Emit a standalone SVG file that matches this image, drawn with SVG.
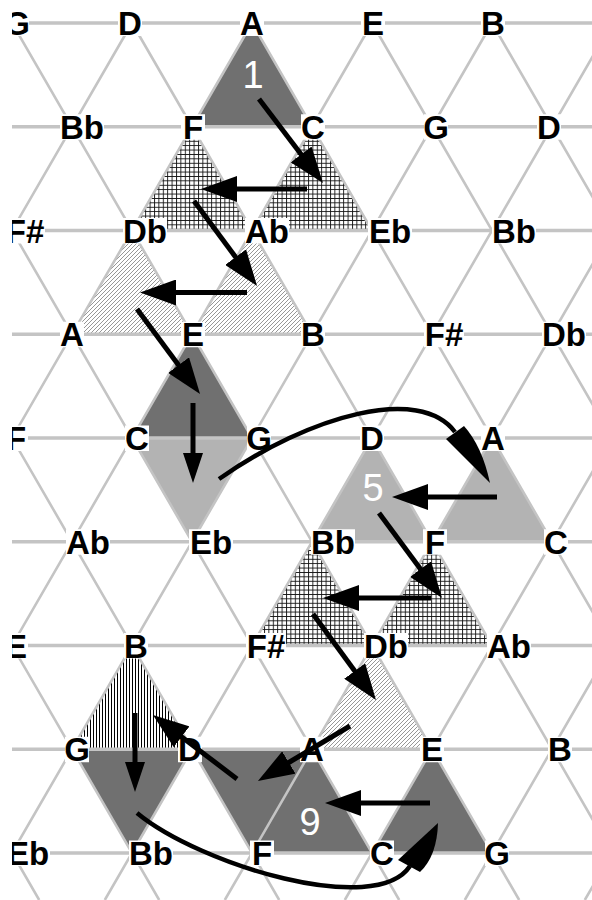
<svg xmlns="http://www.w3.org/2000/svg" width="592" height="900" viewBox="0 0 592 900">
<defs>
  <clipPath id="clip"><rect x="12" y="0" width="580" height="900"/></clipPath>
  <pattern id="cross" patternUnits="userSpaceOnUse" width="4.4" height="4.4"><rect width="4.4" height="4.4" fill="#fff"/><path d="M0,0.5H4.4M0.5,0V4.4" stroke="#111" stroke-width="0.9"/></pattern>
  <pattern id="diag" patternUnits="userSpaceOnUse" width="4" height="4"><rect width="4" height="4" fill="#fff"/><path d="M-1,1L1,-1M0,4L4,0M3,5L5,3" stroke="#6a6a6a" stroke-width="0.7"/></pattern>
  <pattern id="vert" patternUnits="userSpaceOnUse" width="3" height="3"><rect width="3" height="3" fill="#fff"/><path d="M0.5,0V3" stroke="#000" stroke-width="1"/></pattern>
  <marker id="ah" viewBox="0 0 36 26" markerWidth="36" markerHeight="26" refX="1" refY="13" orient="auto" markerUnits="userSpaceOnUse"><path d="M0,0L36,13L0,26Z" fill="#000"/></marker>
  <marker id="ahv" viewBox="0 0 30 20" markerWidth="30" markerHeight="20" refX="1" refY="10" orient="auto" markerUnits="userSpaceOnUse"><path d="M0,0L30,10L0,20Z" fill="#000"/></marker>
</defs>
<style>
  .dark{fill:#707070}
  .light{fill:#b3b3b3}
  .cross{fill:url(#cross)}
  .diag{fill:url(#diag)}
  .vert{fill:url(#vert)}
  .hl{stroke:#c4c4c4;stroke-width:3.5;fill:none}
  .dl{stroke:#c4c4c4;stroke-width:2.6;fill:none}
  .box{fill:#fff}
  .lbl{font-family:"Liberation Sans",Arial,sans-serif;font-weight:bold;font-size:33px;text-anchor:middle;fill:#000}
  .num{font-family:"Liberation Sans",Arial,sans-serif;font-size:38px;text-anchor:middle;fill:#fff}
  .arrv{stroke:#000;stroke-width:5;fill:none;marker-end:url(#ahv)}
  .arrd{stroke:#000;stroke-width:5;fill:none;marker-end:url(#ah)}
  .curve{stroke:#000;stroke-width:4.5;fill:none}
</style>
<rect width="592" height="900" fill="#fff"/>
<g clip-path="url(#clip)">
  <g id="fills">
    <polygon class="dark" points="252,23 192,126.75 312,126.75"/>
    <polygon class="cross" points="192,126.75 132,230.5 252,230.5"/>
    <polygon class="cross" points="312,126.75 252,230.5 372,230.5"/>
    <polygon class="diag" points="132,230.5 72,334.25 192,334.25"/>
    <polygon class="diag" points="252,230.5 192,334.25 312,334.25"/>
    <polygon class="dark" points="192,334.25 132,438 252,438"/>
    <polygon class="light" points="132,438 252,438 192,541.75"/>
    <polygon class="light" points="372,438 312,541.75 432,541.75"/>
    <polygon class="light" points="492,438 432,541.75 552,541.75"/>
    <polygon class="cross" points="312,541.75 252,645.5 372,645.5"/>
    <polygon class="cross" points="432,541.75 372,645.5 492,645.5"/>
    <polygon class="diag" points="372,645.5 312,749.25 432,749.25"/>
    <polygon class="vert" points="132,645.5 72,749.25 192,749.25"/>
    <polygon class="dark" points="72,749.25 192,749.25 132,853"/>
    <polygon class="dark" points="192,749.25 312,749.25 372,853 252,853"/>
    <polygon class="dark" points="432,749.25 372,853 492,853"/>
  </g>
  <g id="grid">
    <path class="hl" d="M12,23H592M12,126.75H592M12,230.5H592M12,334.25H592M12,438H592M12,541.75H592M12,645.5H592M12,749.25H592M12,853H592"/>
    <path class="dl" d="M-468,23L39.2,900M-348,23L159.2,900M-228,23L279.2,900M-108,23L399.2,900M12,23L519.2,900M132,23L639.2,900M252,23L759.2,900M372,23L879.2,900M492,23L999.2,900"/>
    <path class="dl" d="M12,23L-495.2,900M132,23L-375.2,900M252,23L-255.2,900M372,23L-135.2,900M492,23L-15.2,900M612,23L104.8,900M732,23L224.8,900M852,23L344.8,900M972,23L464.8,900M1092,23L584.8,900"/>
  </g>
  <g id="labels">
    <g id="r0-G"><rect class="box" x="5" y="10.5" width="24" height="25.5"/><text class="lbl" x="17" y="35">G</text></g>
    <g id="r0-D"><rect class="box" x="118" y="10.5" width="24" height="25.5"/><text class="lbl" x="130" y="35">D</text></g>
    <g id="r0-A"><rect class="box" x="240" y="10.5" width="24" height="25.5"/><text class="lbl" x="252" y="35">A</text></g>
    <g id="r0-E"><rect class="box" x="361" y="10.5" width="24" height="25.5"/><text class="lbl" x="373" y="35">E</text></g>
    <g id="r0-B"><rect class="box" x="481" y="10.5" width="24" height="25.5"/><text class="lbl" x="493" y="35">B</text></g>

    <g id="r1-Bb"><rect class="box" x="60" y="114.25" width="44" height="25.5"/><text class="lbl" x="82" y="139">Bb</text></g>
    <g id="r1-F"><rect class="box" x="181" y="114.25" width="24" height="25.5"/><text class="lbl" x="193" y="139">F</text></g>
    <g id="r1-C"><rect class="box" x="301" y="114.25" width="24" height="25.5"/><text class="lbl" x="313" y="139">C</text></g>
    <g id="r1-G"><rect class="box" x="424" y="114.25" width="24" height="25.5"/><text class="lbl" x="436" y="139">G</text></g>
    <g id="r1-D"><rect class="box" x="537" y="114.25" width="24" height="25.5"/><text class="lbl" x="549" y="139">D</text></g>

    <g id="r2-Fs"><rect class="box" x="5" y="218" width="40" height="25.5"/><text class="lbl" x="25" y="242.5">F#</text></g>
    <g id="r2-Db"><rect class="box" x="123" y="218" width="44" height="25.5"/><text class="lbl" x="145" y="242.5">Db</text></g>
    <g id="r2-Ab"><rect class="box" x="245" y="218" width="44" height="25.5"/><text class="lbl" x="267" y="242.5">Ab</text></g>
    <g id="r2-Eb"><rect class="box" x="368" y="218" width="44" height="25.5"/><text class="lbl" x="390" y="242.5">Eb</text></g>
    <g id="r2-Bb"><rect class="box" x="492" y="218" width="44" height="25.5"/><text class="lbl" x="514" y="242.5">Bb</text></g>

    <g id="r3-A"><rect class="box" x="60" y="321.75" width="24" height="25.5"/><text class="lbl" x="72" y="346.25">A</text></g>
    <g id="r3-E"><rect class="box" x="181" y="321.75" width="24" height="25.5"/><text class="lbl" x="193" y="346.25">E</text></g>
    <g id="r3-B"><rect class="box" x="301" y="321.75" width="24" height="25.5"/><text class="lbl" x="313" y="346.25">B</text></g>
    <g id="r3-Fs"><rect class="box" x="424" y="321.75" width="40" height="25.5"/><text class="lbl" x="444" y="346.25">F#</text></g>
    <g id="r3-Db"><rect class="box" x="542" y="321.75" width="44" height="25.5"/><text class="lbl" x="564" y="346.25">Db</text></g>

    <g id="r4-F"><rect class="box" x="4" y="425.5" width="24" height="25.5"/><text class="lbl" x="16" y="450">F</text></g>
    <g id="r4-C"><rect class="box" x="125" y="425.5" width="24" height="25.5"/><text class="lbl" x="137" y="450">C</text></g>
    <g id="r4-G"><rect class="box" x="247" y="425.5" width="24" height="25.5"/><text class="lbl" x="259" y="450">G</text></g>
    <g id="r4-D"><rect class="box" x="360" y="425.5" width="24" height="25.5"/><text class="lbl" x="372" y="450">D</text></g>
    <g id="r4-A"><rect class="box" x="481" y="425.5" width="24" height="25.5"/><text class="lbl" x="493" y="450">A</text></g>

    <g id="r5-Ab"><rect class="box" x="66" y="529.25" width="44" height="25.5"/><text class="lbl" x="88" y="553.75">Ab</text></g>
    <g id="r5-Eb"><rect class="box" x="189" y="529.25" width="44" height="25.5"/><text class="lbl" x="211" y="553.75">Eb</text></g>
    <g id="r5-Bb"><rect class="box" x="311" y="529.25" width="44" height="25.5"/><text class="lbl" x="333" y="553.75">Bb</text></g>
    <g id="r5-F"><rect class="box" x="423" y="529.25" width="24" height="25.5"/><text class="lbl" x="435" y="553.75">F</text></g>
    <g id="r5-C"><rect class="box" x="544" y="529.25" width="24" height="25.5"/><text class="lbl" x="556" y="553.75">C</text></g>

    <g id="r6-E"><rect class="box" x="4" y="633" width="24" height="25.5"/><text class="lbl" x="16" y="657.5">E</text></g>
    <g id="r6-B"><rect class="box" x="124" y="633" width="24" height="25.5"/><text class="lbl" x="136" y="657.5">B</text></g>
    <g id="r6-Fs"><rect class="box" x="246" y="633" width="40" height="25.5"/><text class="lbl" x="266" y="657.5">F#</text></g>
    <g id="r6-Db"><rect class="box" x="364" y="633" width="44" height="25.5"/><text class="lbl" x="386" y="657.5">Db</text></g>
    <g id="r6-Ab"><rect class="box" x="487" y="633" width="44" height="25.5"/><text class="lbl" x="509" y="657.5">Ab</text></g>

    <g id="r7-G"><rect class="box" x="65" y="736.75" width="24" height="25.5"/><text class="lbl" x="77" y="761.25">G</text></g>
    <g id="r7-D"><rect class="box" x="178" y="736.75" width="24" height="25.5"/><text class="lbl" x="190" y="761.25">D</text></g>
    <g id="r7-A"><rect class="box" x="300" y="736.75" width="24" height="25.5"/><text class="lbl" x="312" y="761.25">A</text></g>
    <g id="r7-E"><rect class="box" x="420" y="736.75" width="24" height="25.5"/><text class="lbl" x="432" y="761.25">E</text></g>
    <g id="r7-B"><rect class="box" x="548" y="736.75" width="24" height="25.5"/><text class="lbl" x="560" y="761.25">B</text></g>

    <g id="r8-Eb"><rect class="box" x="6" y="840.5" width="44" height="25.5"/><text class="lbl" x="28" y="865">Eb</text></g>
    <g id="r8-Bb"><rect class="box" x="129" y="840.5" width="44" height="25.5"/><text class="lbl" x="151" y="865">Bb</text></g>
    <g id="r8-F"><rect class="box" x="250" y="840.5" width="24" height="25.5"/><text class="lbl" x="262" y="865">F</text></g>
    <g id="r8-C"><rect class="box" x="370" y="840.5" width="24" height="25.5"/><text class="lbl" x="382" y="865">C</text></g>
    <g id="r8-G"><rect class="box" x="485" y="840.5" width="24" height="25.5"/><text class="lbl" x="497" y="865">G</text></g>
  </g>
  <g id="numbers">
    <text class="num" x="253" y="88">1</text>
    <text class="num" x="373" y="501">5</text>
    <text class="num" x="310" y="835">9</text>
  </g>
  <g id="connectors">
    <line class="arrd" x1="259" y1="99" x2="301.8" y2="155.2"/>
    <line class="arrd" x1="307" y1="189" x2="236" y2="189"/>
    <line class="arrd" x1="194" y1="201" x2="236.2" y2="257.9"/>
    <line class="arrd" x1="247" y1="292.5" x2="175" y2="292.5"/>
    <line class="arrd" x1="137" y1="309" x2="179.2" y2="365.9"/>
    <line class="arrv" x1="193" y1="403" x2="193" y2="454"/>
    <path class="curve" d="M219,479C310,415 420,385 455,432"/>
    <path d="M446,439L490,483Q482,446 464,426Z" fill="#000"/>
    <line class="arrd" x1="497" y1="497" x2="427" y2="497"/>
    <line class="arrd" x1="379" y1="513" x2="421.2" y2="569.9"/>
    <line class="arrd" x1="431" y1="598" x2="358" y2="598"/>
    <line class="arrd" x1="313" y1="614" x2="355.3" y2="671.8"/>
    <line class="arrd" x1="350" y1="726" x2="288" y2="763"/>
    <line class="arrd" x1="237" y1="779" x2="180.8" y2="736.2"/>
    <line class="arrv" x1="135" y1="713" x2="135" y2="763"/>
    <path class="curve" d="M137,813C200,865 376,918 410,866"/>
    <path d="M398,860L438,823Q437,856 420,872Z" fill="#000"/>
    <line class="arrd" x1="430" y1="803" x2="360" y2="803"/>
  </g>
</g>
</svg>
